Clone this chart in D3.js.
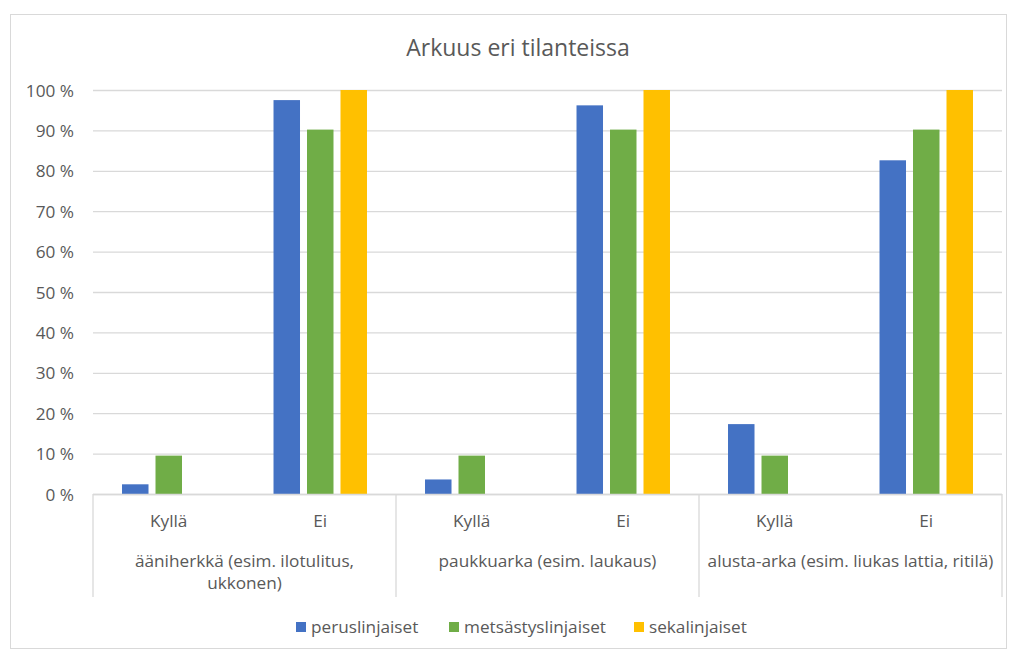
<!DOCTYPE html>
<html><head><meta charset="utf-8">
<script src="https://cdn.jsdelivr.net/npm/d3@7"></script>
<style>body{margin:0;background:#fff;} text{font-family:"Open Sans",sans-serif;fill:#595959;}</style>
</head><body>
<svg id="c" width="1016" height="650"></svg>
<script>
const groups = ["ääniherkkä (esim. ilotulitus,\nukkonen)", "paukkuarka (esim. laukaus)", "alusta-arka (esim. liukas lattia, ritilä)"];
const answers = ["Kyllä", "Ei"];
const seriesNames = ["peruslinjaiset", "metsästyslinjaiset", "sekalinjaiset"];
const seriesColors = ["#4472C4", "#70AD47", "#FFC000"];
const peruslinjaiset = [2.4, 97.5, 3.6, 96.2, 17.3, 82.6];
const metsastyslinjaiset = [9.5, 90.2, 9.5, 90.2, 9.5, 90.2];
const sekalinjaiset = [0, 100, 0, 100, 0, 100];
const yTicks = [0,10,20,30,40,50,60,70,80,90,100];

(function(){
const FS = "17.2px";
const series = [peruslinjaiset, metsastyslinjaiset, sekalinjaiset];
const cats = [];
groups.forEach((g,gi)=>answers.forEach((a,ai)=>cats.push({id:gi+"-"+ai, g:gi, a})));

const svg = d3.select("#c");
svg.append("rect").attr("x",10.5).attr("y",14.5).attr("width",996).attr("height",634)
  .attr("fill","#fff").attr("stroke","#D9D9D9");

const pL=93, pR=1002, pT=90, pB=494;
const y = d3.scaleLinear().domain([0,100]).range([pB, pT]);
const x0 = d3.scaleBand().domain(cats.map(c=>c.id)).range([pL,pR]).paddingInner(0.383).paddingOuter(0.1915);
const x1 = d3.scaleBand().domain(d3.range(3)).range([0, x0.bandwidth()]).paddingInner(0.209);

svg.append("text").attr("x",518).attr("y",56).attr("text-anchor","middle")
  .style("font-size","23px").text("Arkuus eri tilanteissa");

const yAxis = d3.axisLeft(y).tickValues(yTicks).tickSize(-(pR-pL)).tickFormat(d=>d+" %");
const ga = svg.append("g").attr("transform",`translate(${pL},0)`).call(yAxis);
ga.select(".domain").remove();
ga.selectAll(".tick line").attr("stroke","#D9D9D9").attr("stroke-width",1.3);
ga.selectAll(".tick text").attr("x",-19).attr("dy","0.35em").style("font-size",FS).attr("fill","#595959").style("font-family","'Open Sans',sans-serif");

cats.forEach((c,ci)=>{
  series.forEach((s,si)=>{
    const v = s[ci];
    if (v<=0) return;
    svg.append("rect").attr("x",x0(c.id)+x1(si)).attr("width",x1.bandwidth())
      .attr("y",y(v)).attr("height",y(0)-y(v)).attr("fill",seriesColors[si]);
  });
});

svg.append("line").attr("x1",pL).attr("x2",pR).attr("y1",pB+0.5).attr("y2",pB+0.5).attr("stroke","#D9D9D9").attr("stroke-width",1.3);
const gx = d3.scaleBand().domain(d3.range(groups.length)).range([pL,pR]);
d3.range(groups.length+1).forEach(i=>{
  const xx = pL + i*gx.step();
  svg.append("line").attr("x1",xx).attr("x2",xx).attr("y1",pB).attr("y2",597).attr("stroke","#D9D9D9").attr("stroke-width",1.3);
});
cats.forEach(c=>{
  svg.append("text").attr("x",x0(c.id)+x0.bandwidth()/2).attr("y",527).attr("text-anchor","middle")
    .style("font-size",FS).text(c.a);
});
groups.forEach((g,gi)=>{
  const t = svg.append("text").attr("x",gx(gi)+gx.bandwidth()/2).attr("y",567).attr("text-anchor","middle").style("font-size",FS);
  g.split("\n").forEach((line,li)=>t.append("tspan").attr("x",gx(gi)+gx.bandwidth()/2).attr("dy",li?22:0).text(line));
});

const legX = [296, 449, 634];
seriesNames.forEach((n,i)=>{
  svg.append("rect").attr("x",legX[i]).attr("y",622).attr("width",10).attr("height",10).attr("fill",seriesColors[i]);
  svg.append("text").attr("x",legX[i]+15).attr("y",633).style("font-size",FS).text(n);
});
})();
</script>
</body></html>
